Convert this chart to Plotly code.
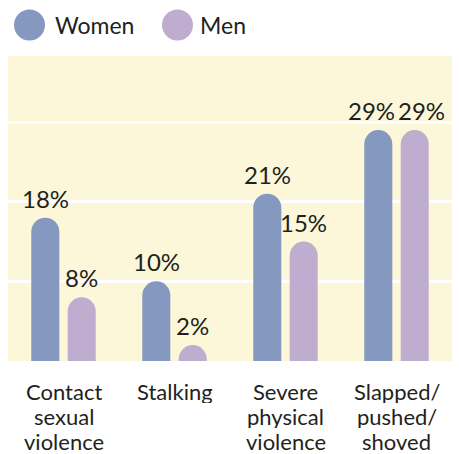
import plotly.graph_objects as go

# Share of respondents who experienced each form of violence
categories = ["Contact<br>sexual<br>violence", "Stalking", "Severe<br>physical<br>violence", "Slapped/<br>pushed/<br>shoved"]
series_names = ["Women", "Men"]
women = [18, 10, 21, 29]
men = [8, 2, 15, 29]

colors = {"Women": "#8598BF", "Men": "#BEADCF"}
text_color = "#231F20"
bg_color = "#FDF7D9"
font_family = "Lato, 'Open Sans', sans-serif"

W, H = 459, 454
margin = dict(l=8, r=7, t=56, b=93)
bargap, bargroupgap = 0.344, 0.23

fig = go.Figure()
for name, vals in zip(series_names, [women, men]):
    fig.add_trace(go.Bar(
        x=list(range(len(categories))), y=vals, name=name,
        marker=dict(color=colors[name], line=dict(width=0), cornerradius="50%"),
        showlegend=False, hoverinfo="skip",
    ))

# value labels above each bar; identical neighbours are nudged apart
slot = (1 - bargap) / 4
for i in range(len(categories)):
    pair = [women[i], men[i]]
    spread = 7 if abs(pair[0] - pair[1]) < 3 else 0
    for k, v in enumerate(pair):
        sign = -1 if k == 0 else 1
        fig.add_annotation(
            x=i + sign * slot, y=v, xref="x", yref="y",
            text=f"{v}%", showarrow=False,
            xanchor="center", yanchor="bottom",
            xshift=sign * spread, yshift=3,
            font=dict(size=24, color=text_color, family=font_family),
        )

# category labels, one annotation per line for a tight line height
line_step = 25
for i, label in enumerate(categories):
    for j, line in enumerate(label.split("<br>")):
        fig.add_annotation(
            x=i, y=0, xref="x", yref="y", text=line, showarrow=False,
            xanchor="center", yanchor="middle", yshift=-30.5 - j * line_step,
            height=23,
            font=dict(size=22, color=text_color, family=font_family),
        )

# legend: large round swatches with labels above the plot area
legend_x = [(6, 37, 45), (154, 185, 190)]
for name, (c0, c1, tx) in zip(series_names, legend_x):
    fig.add_shape(
        type="circle", xref="paper", yref="paper",
        xsizemode="pixel", ysizemode="pixel", xanchor=0, yanchor=1,
        x0=c0, x1=c1, y0=15.5, y1=46.5,
        fillcolor=colors[name], line=dict(width=0),
    )
    fig.add_annotation(
        x=0, y=1, xref="paper", yref="paper", xanchor="left", yanchor="middle",
        xshift=tx, yshift=31, text=name, showarrow=False,
        font=dict(size=23, color=text_color, family=font_family),
    )

fig.update_layout(
    width=W, height=H, margin=margin,
    paper_bgcolor="white", plot_bgcolor=bg_color,
    bargap=bargap, bargroupgap=bargroupgap, barmode="group",
    font=dict(family=font_family, color=text_color),
    xaxis=dict(
        range=[-0.5, len(categories) - 0.5], showticklabels=False,
        showgrid=False, zeroline=False, showline=False, ticks="",
        automargin=False,
    ),
    yaxis=dict(
        range=[0, 38.3], tickvals=[10, 20, 30], showticklabels=False,
        gridcolor="white", gridwidth=3, zeroline=False, showline=False,
        automargin=False,
    ),
)

fig.write_html("out.html")
